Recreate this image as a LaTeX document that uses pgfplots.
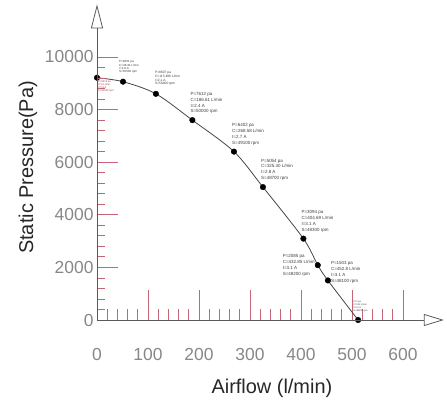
\documentclass[border=0pt]{standalone}
\usepackage{pgfplots}
\pgfplotsset{compat=1.18}
\usetikzlibrary{arrows.meta}
\usepackage{fontspec}
\setmainfont{Liberation Sans}
\definecolor{tickc}{RGB}{200,100,120}
\definecolor{axc}{RGB}{90,90,90}
\definecolor{labc}{RGB}{135,135,135}
\definecolor{curvec}{RGB}{70,70,70}
\definecolor{txtc}{RGB}{60,60,60}
\definecolor{redtxt}{RGB}{150,60,60}
\begin{document}
\begin{tikzpicture}
\pgfplotsset{
  base/.style={
    xmin=0, xmax=680, ymin=0, ymax=12000,
    scale only axis, width=346.8bp, height=315.6bp,
    clip=false, axis lines=left, tick align=inside,
    ticklabel style={font=\fontsize{17.5}{20}\selectfont, text=labc},
    /pgf/number format/assume math mode=true,
    /pgf/number format/1000 sep={},
    scaled ticks=false,
    every tick/.style={draw=tickc, line width=0.8bp},
    every minor tick/.style={draw=tickc, line width=0.8bp},
    every major tick/.style={draw=tickc, line width=0.8bp},
  }
}
\begin{axis}[base,
  axis line style={draw=none},
  xtick={0,100,...,600}, minor xtick={20,40,...,580}, ytick=\empty,
  major tick length=30bp, minor tick length=11bp,
  xticklabel style={anchor=north, yshift=-25bp},
]
\addplot[curvec, line width=0.8bp, smooth] coordinates {
(0,9213) (51,9061) (115.5,8600) (187,7600) (268.6,6402) (325.4,5054) (404.7,3094) (432.9,2085) (452.8,1503) (512,0)};
\addplot[only marks, mark=*, mark size=2.8bp, black] coordinates {
(0,9213) (51,9061) (115.5,8600) (187,7600) (268.6,6402) (325.4,5054) (404.7,3094) (432.9,2085) (452.8,1503) (512,0)};
\node[anchor=north west, inner sep=0, align=left, text=redtxt, font=\fontsize{2.6}{3}\selectfont] at ([shift={(1bp,-3bp)}]axis cs:0,9213) {P=9213 pa\\C=0 L/min\\I=1.5 A\\S=50600 rpm};
\node[anchor=south west, inner sep=0, align=left, text=txtc, font=\fontsize{3}{3.4}\selectfont] at ([shift={(-4bp,8bp)}]axis cs:51,9061) {P=9061 pa\\C=48.34 L/min\\I=1.8 A\\S=50500 rpm};
\node[anchor=south west, inner sep=0, align=left, text=txtc, font=\fontsize{3.3}{3.8}\selectfont] at ([shift={(-1bp,8bp)}]axis cs:115.5,8600) {P=8607 pa\\C=115.486 L/min\\I=2.1 A\\S=50400 rpm};
\node[anchor=south west, inner sep=0, align=left, text=txtc, font=\fontsize{4.5}{6}\selectfont] at ([shift={(-2bp,6bp)}]axis cs:187,7600) {P=7612 pa\\C=186.61 L/min\\I=2.4 A\\S=50000 rpm};
\node[anchor=south west, inner sep=0, align=left, text=txtc, font=\fontsize{4.5}{6}\selectfont] at ([shift={(-2bp,6bp)}]axis cs:268.6,6402) {P=6402 pa\\C=268.58 L/min\\I=2.7 A\\S=49100 rpm};
\node[anchor=south west, inner sep=0, align=left, text=txtc, font=\fontsize{4.5}{6}\selectfont] at ([shift={(-2bp,6bp)}]axis cs:325.4,5054) {P=5054 pa\\C=325.40 L/min\\I=2.8 A\\S=48700 rpm};
\node[anchor=south west, inner sep=0, align=left, text=txtc, font=\fontsize{4.5}{6}\selectfont] at ([shift={(-2bp,6bp)}]axis cs:404.7,3094) {P=3094 pa\\C=404.69 L/min\\I=3.1 A\\S=48300 rpm};
\node[anchor=east, inner sep=0, align=left, text=txtc, font=\fontsize{4.5}{6}\selectfont] at ([shift={(-3bp,0bp)}]axis cs:432.9,2085) {P=2085 pa\\C=432.85 L/min\\I=3.1 A\\S=48200 rpm};
\node[anchor=south west, inner sep=0, align=left, text=txtc, font=\fontsize{4.5}{6}\selectfont] at ([shift={(3bp,-3bp)}]axis cs:452.8,1503) {P=1503 pa\\C=452.8 L/min\\I=3.1 A\\S=48100 rpm};
\node[anchor=south west, inner sep=0, align=left, text=txtc, font=\fontsize{2.4}{2.8}\selectfont] at ([shift={(-5bp,8bp)}]axis cs:512,0) {P=0 pa\\C=512 L/min\\I=3.2 A\\S=48000 rpm};
\node[font=\fontsize{20}{24}\selectfont, text=black!85] at ([yshift=-68bp]axis cs:343,0) {Airflow (l/min)};
\node[rotate=90, font=\fontsize{20}{24}\selectfont, text=black!85] at ([xshift=-69bp]axis cs:0,5800) {Static Pressure(Pa)};
\end{axis}
\begin{axis}[base,
  axis line style={axc, line width=0.8bp},
  x axis line style={-{Triangle[open, length=20bp, width=12bp]}},
  y axis line style={-{Triangle[open, length=24bp, width=12bp]}},
  xtick=\empty, ytick={0,2000,...,10000}, minor ytick={400,800,...,9600},
  major tick length=21bp, minor tick length=8bp,
]
\coordinate (O) at (axis cs:0,0);
\end{axis}
\pgfresetboundingbox
\path[use as bounding box] ([shift={(-97bp,-90bp)}]O) rectangle ([shift={(350bp,320bp)}]O);
\end{tikzpicture}
\end{document}
